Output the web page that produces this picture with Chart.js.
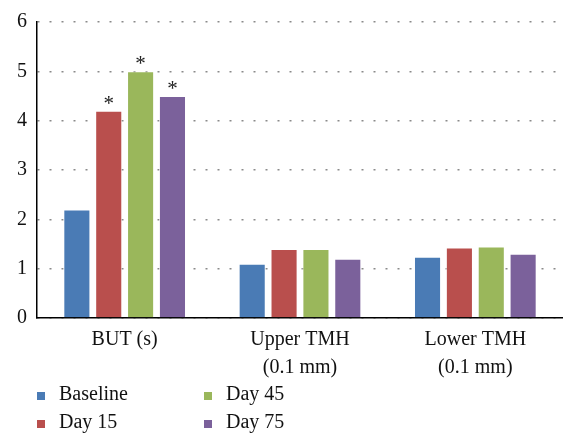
<!DOCTYPE html>
<html>
<head>
<meta charset="utf-8">
<script src="https://cdn.jsdelivr.net/npm/chart.js@4"></script>
<style>
  html, body { margin: 0; padding: 0; background: #fff; }
  #wrap { width: 563px; height: 433px; }
</style>
</head>
<body>
<div id="wrap"><canvas id="grafica" width="563" height="433"></canvas></div>
<script>
// datos
var categorias = [['BUT (s)'], ['Upper TMH', '(0.1 mm)'], ['Lower TMH', '(0.1 mm)']];
var series = ['Baseline', 'Day 15', 'Day 45', 'Day 75'];
var baseline = [2.2, 1.1, 1.24];
var dia15 = [4.2, 1.4, 1.43];
var dia45 = [5.0, 1.4, 1.45];
var dia75 = [4.5, 1.2, 1.3];
var marcas15 = ['*', '', ''];
var marcas45 = ['*', '', ''];
var marcas75 = ['*', '', ''];
var ticksY = [0, 1, 2, 3, 4, 5, 6];

var colores = ['#4a7bb5', '#b94f4d', '#9ab75b', '#7b619b'];
var valores = [baseline, dia15, dia45, dia75];
var marcas = [['', '', ''], marcas15, marcas45, marcas75];
var fuente = 'Liberation Serif';

// asteriscos encima de las barras
var asteriscos = {
    id: 'asteriscos',
    afterDatasetsDraw(chart){
        let ctx = chart.ctx;
        ctx.save();
        ctx.fillStyle = '#222';
        ctx.font = '21px "' + fuente + '"';
        ctx.textAlign = 'center';
        ctx.textBaseline = 'alphabetic';
        chart.data.datasets.forEach((ds, i) => {
            let meta = chart.getDatasetMeta(i);
            meta.data.forEach((bar, j) => {
                let m = marcas[i][j];
                if(m){
                    ctx.fillText(m, bar.x, bar.y - 1);
                }
            });
        });
        ctx.restore();
    }
};

// leyenda en dos columnas
var leyenda = {
    id: 'leyenda',
    afterDraw(chart){
        let ctx = chart.ctx,
        left = chart.chartArea.left;
        let pos = [[left, 396], [left, 424], [left + 167, 396], [left + 167, 424]];
        ctx.save();
        ctx.font = '20px "' + fuente + '"';
        ctx.textBaseline = 'middle';
        ctx.textAlign = 'left';
        series.forEach((nombre, i) => {
            let p = pos[i];
            ctx.fillStyle = colores[i];
            ctx.fillRect(p[0], p[1] - 4, 8, 8);
            ctx.fillStyle = '#111';
            ctx.fillText(nombre, p[0] + 22, p[1] - 1);
        });
        ctx.restore();
    }
};

var canvas = document.getElementById('grafica').getContext('2d');

var chart = new Chart(canvas, {
    type: 'bar',
    data: {
        labels: categorias,
        datasets: series.map((nombre, i) => ({
            label: nombre,
            data: valores[i],
            backgroundColor: colores[i],
            borderColor: 'rgba(255,255,255,0.5)',
            borderWidth: 1,
            categoryPercentage: 0.727,
            barPercentage: 0.85
        }))
    },
    options: {
        responsive: false,
        animation: false,
        devicePixelRatio: 1,
        layout: { padding: { left: 7, top: 11, right: 0, bottom: 51 } },
        plugins: {
            legend: { display: false },
            tooltip: { enabled: false }
        },
        scales: {
            x: {
                grid: { display: false },
                border: { color: '#000', width: 1.5 },
                ticks: {
                    color: '#111',
                    padding: 0,
                    maxRotation: 0,
                    autoSkip: false,
                    font: { family: fuente, size: 20, lineHeight: 1.4 }
                }
            },
            y: {
                min: 0,
                max: 6,
                afterBuildTicks: axis => { axis.ticks = ticksY.map(v => ({ value: v })); },
                grid: {
                    color: '#8a8a8a',
                    lineWidth: 1.5,
                    drawTicks: false
                },
                border: { color: '#000', width: 1.5, dash: [2, 10] },
                ticks: {
                    color: '#111',
                    padding: 10,
                    font: { family: fuente, size: 20 }
                }
            }
        }
    },
    plugins: [asteriscos, leyenda]
});
</script>
</body>
</html>
